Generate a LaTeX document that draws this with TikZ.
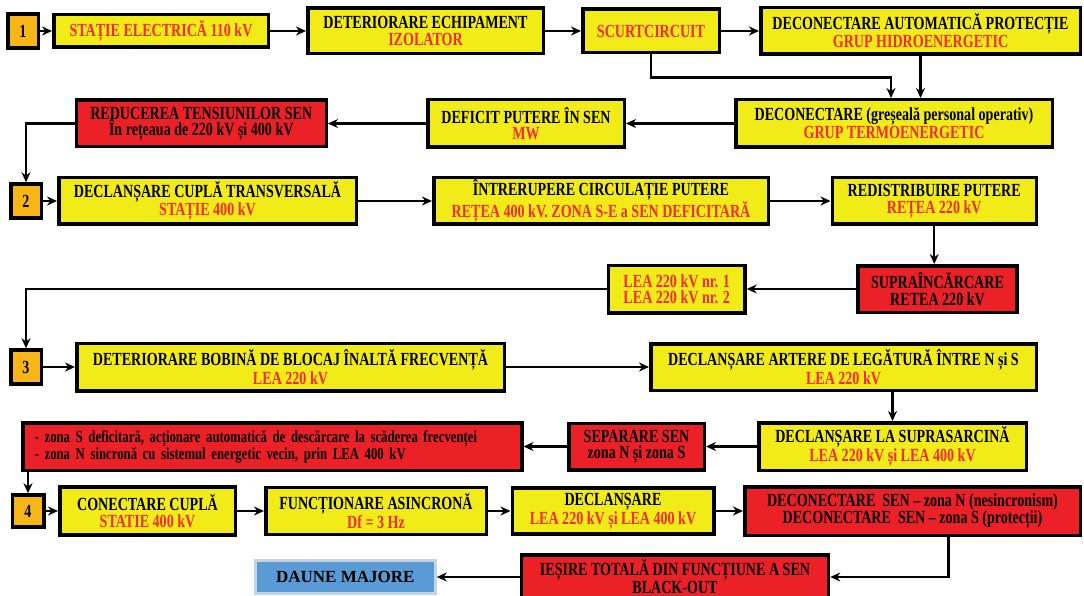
\documentclass[tikz,border=0pt]{standalone}
\usepackage{fontspec}
\setmainfont{Liberation Serif}[FakeStretch=0.76]
\newfontfamily\plainserif{Liberation Serif}
\usepackage{tikz}
\usetikzlibrary{arrows.meta,positioning,calc}
\definecolor{boxY}{HTML}{F1EB18}
\definecolor{boxR}{HTML}{EC2027}
\definecolor{boxO}{HTML}{F8B616}
\definecolor{boxB}{HTML}{5B9BD5}
\definecolor{edgeB}{HTML}{C5D3E3}
\definecolor{txtR}{HTML}{F52A2A}
\newcommand{\rd}[1]{\textcolor{txtR}{#1}}

\begin{document}
\begin{tikzpicture}[x=1pt, y=-1pt, >={Stealth[length=10pt,width=9pt]}, line width=2.3pt,
  ybox/.style={draw, line width=3.5pt, fill=boxY, align=center, inner sep=1pt, font=\bfseries\fontsize{18.5}{16.5}\selectfont},
  rbox/.style={ybox, fill=boxR},
  numbox/.style={ybox, fill=boxO, minimum width=30.5pt, minimum height=34pt},
  bluebox/.style={draw=edgeB, line width=3pt, fill=boxB, font=\plainserif\bfseries\fontsize{17}{20}\selectfont}]
\useasboundingbox (0,0) rectangle (1084,596);
% 1
\node[numbox] (n1) at (23,31) {1};
\node[ybox, text=txtR, minimum width=214.5pt, minimum height=32.5pt, right=12pt of n1] (sta) {STAȚIE ELECTRICĂ 110 kV};
\node[ybox, minimum width=235.5pt, minimum height=45.5pt, right=36pt of sta] (det) {DETERIORARE ECHIPAMENT\\\rd{IZOLATOR}};
\node[ybox, text=txtR, minimum width=136.5pt, minimum height=43.5pt, right=36pt of det] (scurt) {SCURTCIRCUIT};
\node[ybox, minimum width=319.5pt, minimum height=46.5pt, right=38pt of scurt] (auto) {DECONECTARE AUTOMATICĂ PROTECȚIE\\\rd{GRUP HIDROENERGETIC}};
\node[ybox, minimum width=316.5pt, minimum height=47.5pt] (decon) at (894,123.5) {DECONECTARE (greșeală personal operativ)\\\rd{GRUP TERMOENERGETIC}};
\node[ybox, minimum width=196.5pt, minimum height=47.5pt, left=108pt of decon] (deficit) {DEFICIT PUTERE ÎN SEN\\\rd{MW}};
\node[rbox, minimum width=250pt, minimum height=46.5pt, left=98pt of deficit] (reduc) {REDUCEREA TENSIUNILOR SEN\\În rețeaua de 220 kV și 400 kV};
\draw[->] (n1) -- (sta);
\draw[->] (sta) -- (det);
\draw[->] (det) -- (scurt);
\draw[->] (scurt) -- (auto);
\draw[->] (scurt.south) -- ++(0,23) -| ([xshift=-3pt]decon.north);
\draw[->] (auto.south) -- (auto.south |- decon.north);
\draw[->] (decon) -- (deficit);
\draw[->] (deficit) -- (reduc);
% 2
\node[numbox] (n2) at (26,201) {2};
\draw[->] (reduc.west) -| (n2.north);
\node[ybox, minimum width=297.5pt, minimum height=46.5pt, right=14pt of n2] (cupla) {DECLANȘARE CUPLĂ TRANSVERSALĂ\\\rd{STAȚIE 400 kV}};
\node[ybox, minimum width=334.5pt, minimum height=46.5pt, right=74pt of cupla] (intrer) {ÎNTRERUPERE CIRCULAȚIE PUTERE\\\rd{REȚEA 400 kV. ZONA S-E a SEN DEFICITARĂ}};
\node[ybox, minimum width=204pt, minimum height=46.5pt, right=60.5pt of intrer] (redist) {REDISTRIBUIRE PUTERE\\\rd{REȚEA 220 kV}};
\node[rbox, minimum width=159pt, minimum height=46.5pt] (supra) at (937.5,289) {SUPRAÎNCĂRCARE\\RETEA 220 kV};
\node[ybox, text=txtR, minimum width=136.5pt, minimum height=47.5pt, left=109.5pt of supra] (lea) {LEA 220 kV nr. 1\\LEA 220 kV nr. 2};
\draw[->] (n2) -- (cupla);
\draw[->] (cupla) -- (intrer);
\draw[->] (intrer) -- (redist);
\draw[->] (redist.south) -- (redist.south |- supra.north);
\draw[->] (supra) -- (lea);
% 3
\node[numbox] (n3) at (26,367) {3};
\draw[->] (lea.west) -| (n3.north);
\node[ybox, minimum width=427.5pt, minimum height=47.5pt, right=32pt of n3] (bobina) {DETERIORARE BOBINĂ DE BLOCAJ ÎNALTĂ FRECVENȚĂ\\\rd{LEA 220 kV}};
\node[ybox, minimum width=385.5pt, minimum height=46.5pt, right=143pt of bobina] (artere) {DECLANȘARE ARTERE DE LEGĂTURĂ ÎNTRE N și S\\\rd{LEA 220 kV}};
\node[ybox, minimum width=267.5pt, minimum height=47.5pt] (suprasarc) at (892.5,446.5) {DECLANȘARE LA SUPRASARCINĂ\\\rd{LEA 220 kV și LEA 400 kV}};
\node[rbox, minimum width=135.5pt, minimum height=46.5pt, left=51pt of suprasarc] (separ) {SEPARARE SEN\\zona N și zona S};
\node[rbox, align=left, inner xsep=12pt, text width=475pt, minimum height=47.5pt, font=\bfseries\fontsize{16.8}{15.8}\selectfont, left=43.5pt of separ] (zone) {- zona S deficitară, acționare automatică de descărcare la scăderea frecvenței\\- zona N sincronă cu sistemul energetic vecin, prin LEA 400 kV};
\draw[->] (n3) -- (bobina);
\draw[->] (bobina) -- (artere);
\draw[->] (suprasarc.north |- artere.south) -- (suprasarc.north);
\draw[->] (suprasarc) -- (separ);
\draw[->] (separ) -- (zone);
% 4
\node[numbox, minimum width=31.5pt, minimum height=32pt] (n4) at (28,511) {4};
\draw[->] (n4.north |- zone.south) -- (n4.north);
\node[ybox, minimum width=175.5pt, minimum height=48pt, right=12.5pt of n4] (conect) {CONECTARE CUPLĂ\\\rd{STATIE 400 kV}};
\node[ybox, minimum width=220.5pt, minimum height=47pt, right=27pt of conect] (func) {FUNCȚIONARE ASINCRONĂ\\\rd{Df = 3 Hz}};
\node[ybox, minimum width=201.5pt, minimum height=46pt, right=22.5pt of func] (decl) {DECLANȘARE\\\rd{LEA 220 kV și LEA 400 kV}};
\node[rbox, minimum width=335.5pt, minimum height=48.5pt, right=27.5pt of decl] (decsen) {DECONECTARE\ \ SEN -- zona N (nesincronism)\\DECONECTARE\ \ SEN -- zona S (protecții)};
\node[rbox, minimum width=307pt, minimum height=44pt, font=\bfseries\fontsize{18.5}{15}\selectfont] (iesire) at (675,577) {IEȘIRE TOTALĂ DIN FUNCȚIUNE A SEN\\BLACK-OUT};
\node[bluebox, minimum width=180pt, minimum height=33pt, left=83pt of iesire] (daune) {DAUNE MAJORE};
\draw[->] (n4) -- (conect);
\draw[->] (conect) -- (func);
\draw[->] (func) -- (decl);
\draw[->] (decl) -- (decsen);
\draw[->] ([xshift=36pt]decsen.south) |- (iesire.east);
\draw[->] (iesire) -- (daune);
\end{tikzpicture}
\end{document}
